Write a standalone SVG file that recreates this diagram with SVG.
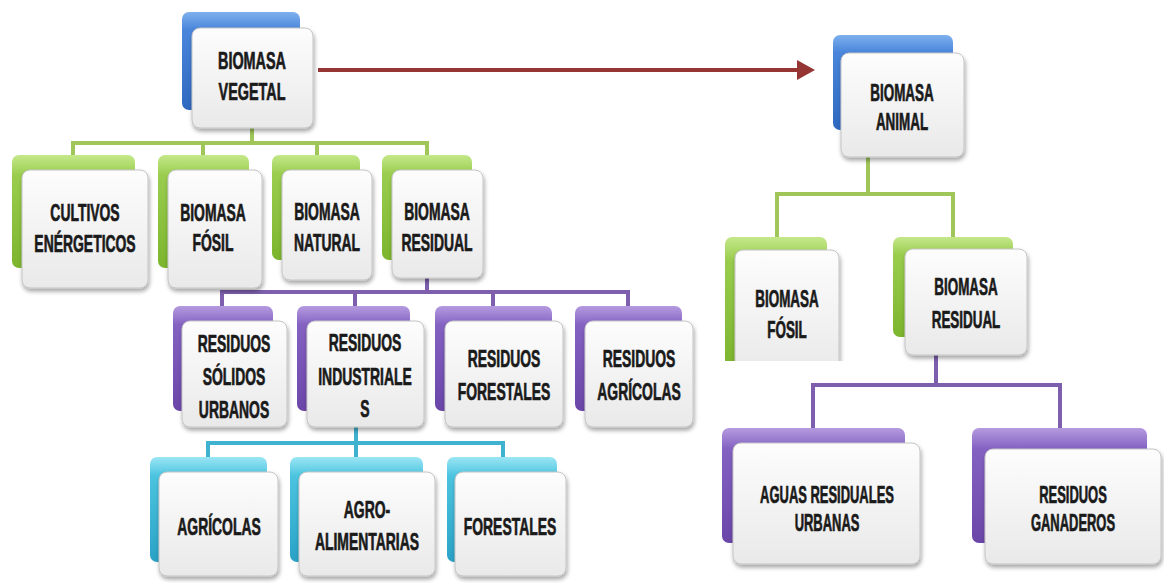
<svg xmlns="http://www.w3.org/2000/svg" width="1164" height="583" viewBox="0 0 1164 583">
  <defs>
    <linearGradient id="gBlue" x1="0" y1="0" x2="0" y2="1">
      <stop offset="0" stop-color="#7fb0ee"/>
      <stop offset="0.18" stop-color="#4a86db"/>
      <stop offset="1" stop-color="#2f68c0"/>
    </linearGradient>
    <linearGradient id="gGreen" x1="0" y1="0" x2="0" y2="1">
      <stop offset="0" stop-color="#c4e88a"/>
      <stop offset="0.18" stop-color="#9acd4e"/>
      <stop offset="1" stop-color="#7cb52e"/>
    </linearGradient>
    <linearGradient id="gPurple" x1="0" y1="0" x2="0" y2="1">
      <stop offset="0" stop-color="#b59be0"/>
      <stop offset="0.18" stop-color="#8462c2"/>
      <stop offset="1" stop-color="#6a46a8"/>
    </linearGradient>
    <linearGradient id="gCyan" x1="0" y1="0" x2="0" y2="1">
      <stop offset="0" stop-color="#9be6f4"/>
      <stop offset="0.18" stop-color="#4cc4e0"/>
      <stop offset="1" stop-color="#2aa2c6"/>
    </linearGradient>
    <linearGradient id="gCard" x1="0" y1="0" x2="0" y2="1">
      <stop offset="0" stop-color="#fdfdfd"/>
      <stop offset="1" stop-color="#e9e9ea"/>
    </linearGradient>
    <filter id="shadow" x="-10%" y="-10%" width="125%" height="130%">
      <feDropShadow dx="1" dy="3" stdDeviation="2" flood-color="#000" flood-opacity="0.35"/>
    </filter>
    <clipPath id="clipFosil">
      <rect x="700" y="200" width="160" height="161"/>
    </clipPath>
  </defs>
  <style>
    .bk { stroke-width: 0; }
    .blue { fill: url(#gBlue); }
    .green { fill: url(#gGreen); }
    .purple { fill: url(#gPurple); }
    .cyan { fill: url(#gCyan); }
    .card { fill: url(#gCard); stroke: #c4c4c6; stroke-width: 1; filter: url(#shadow); }
    .t { font-family: "Liberation Sans", Arial, sans-serif; font-weight: bold; font-size: 24px; fill: #1a1a1a; stroke: #1a1a1a; stroke-width: 0.7; text-anchor: middle; }
    .ln { fill: none; stroke-width: 4; stroke-linecap: square; }
    .lg { stroke: #a0c65a; }
    .lp { stroke: #7d5fad; }
    .lc { stroke: #3fb2cf; }
  </style>

  <rect width="1164" height="583" fill="#ffffff"/>

  <!-- connectors -->
  <g id="connectors">
    <path class="ln lg" d="M252 126V143M73 143H427M73 143V158M203 143V158M317 143V158M427 143V158"/>
    <path class="ln lp" d="M427 278V292M222 292H628M222 292V308M355 292V308M493 292V308M628 292V308"/>
    <path class="ln lc" d="M356 425V443M208 443H503M208 443V460M356 443V460M503 443V460"/>
    <path class="ln lg" d="M868 156V194M777 194H953M777 194V240M953 194V240"/>
    <path class="ln lp" d="M936 354V385M813 385H1060M813 385V431M1060 385V431"/>
    <path d="M318 70H800" fill="none" stroke="#963634" stroke-width="4"/>
    <polygon points="797,60 815,70 797,80" fill="#963634"/>
  </g>

  <!-- left tree -->
  <g id="biomasa-vegetal">
    <rect class="bk blue" x="182" y="12" width="118" height="98" rx="7"/>
    <rect class="card" x="192" y="28" width="121" height="100" rx="8"/>
    <text class="t" transform="translate(252 0) scale(0.6 1)"><tspan x="0" y="69">BIOMASA</tspan><tspan x="0" y="100">VEGETAL</tspan></text>
  </g>

  <g id="cultivos-energeticos">
    <rect class="bk green" x="12" y="155" width="123" height="113" rx="7"/>
    <rect class="card" x="22" y="170" width="126" height="118" rx="8"/>
    <text class="t" transform="translate(85 0) scale(0.58 1)"><tspan x="0" y="221">CULTIVOS</tspan><tspan x="0" y="252">ENÉRGETICOS</tspan></text>
  </g>
  <g id="biomasa-fosil">
    <rect class="bk green" x="158" y="155" width="91" height="113" rx="7"/>
    <rect class="card" x="168" y="170" width="94" height="118" rx="8"/>
    <text class="t" transform="translate(213 0) scale(0.58 1)"><tspan x="0" y="221">BIOMASA</tspan><tspan x="0" y="251">FÓSIL</tspan></text>
  </g>
  <g id="biomasa-natural">
    <rect class="bk green" x="272" y="155" width="88" height="105" rx="7"/>
    <rect class="card" x="282" y="170" width="90" height="110" rx="8"/>
    <text class="t" transform="translate(327 0) scale(0.58 1)"><tspan x="0" y="220">BIOMASA</tspan><tspan x="0" y="251">NATURAL</tspan></text>
  </g>
  <g id="biomasa-residual">
    <rect class="bk green" x="382" y="155" width="90" height="105" rx="7"/>
    <rect class="card" x="392" y="170" width="91" height="108" rx="8"/>
    <text class="t" transform="translate(437 0) scale(0.58 1)"><tspan x="0" y="220">BIOMASA</tspan><tspan x="0" y="251">RESIDUAL</tspan></text>
  </g>

  <g id="residuos-solidos-urbanos">
    <rect class="bk purple" x="173" y="306" width="100" height="105" rx="7"/>
    <rect class="card" x="182" y="321" width="105" height="106" rx="8"/>
    <text class="t" transform="translate(234 0) scale(0.58 1)"><tspan x="0" y="352">RESIDUOS</tspan><tspan x="0" y="385">SÓLIDOS</tspan><tspan x="0" y="418">URBANOS</tspan></text>
  </g>
  <g id="residuos-industriales">
    <rect class="bk purple" x="297" y="306" width="113" height="105" rx="7"/>
    <rect class="card" x="307" y="321" width="117" height="106" rx="8"/>
    <text class="t" transform="translate(365 0) scale(0.58 1)"><tspan x="0" y="351">RESIDUOS</tspan><tspan x="0" y="385">INDUSTRIALE</tspan><tspan x="0" y="417">S</tspan></text>
  </g>
  <g id="residuos-forestales">
    <rect class="bk purple" x="435" y="306" width="117" height="105" rx="7"/>
    <rect class="card" x="445" y="321" width="118" height="106" rx="8"/>
    <text class="t" transform="translate(504 0) scale(0.58 1)"><tspan x="0" y="367">RESIDUOS</tspan><tspan x="0" y="400">FORESTALES</tspan></text>
  </g>
  <g id="residuos-agricolas">
    <rect class="bk purple" x="575" y="306" width="107" height="105" rx="7"/>
    <rect class="card" x="585" y="321" width="108" height="106" rx="8"/>
    <text class="t" transform="translate(639 0) scale(0.58 1)"><tspan x="0" y="367">RESIDUOS</tspan><tspan x="0" y="400">AGRÍCOLAS</tspan></text>
  </g>

  <g id="agricolas">
    <rect class="bk cyan" x="150" y="457" width="117" height="105" rx="7"/>
    <rect class="card" x="159" y="472" width="119" height="104" rx="8"/>
    <text class="t" transform="translate(219 0) scale(0.58 1)"><tspan x="0" y="535">AGRÍCOLAS</tspan></text>
  </g>
  <g id="agro-alimentarias">
    <rect class="bk cyan" x="290" y="457" width="133" height="105" rx="7"/>
    <rect class="card" x="299" y="472" width="136" height="104" rx="8"/>
    <text class="t" transform="translate(367 0) scale(0.58 1)"><tspan x="0" y="518">AGRO-</tspan><tspan x="0" y="550">ALIMENTARIAS</tspan></text>
  </g>
  <g id="forestales">
    <rect class="bk cyan" x="447" y="457" width="110" height="105" rx="7"/>
    <rect class="card" x="455" y="472" width="111" height="104" rx="8"/>
    <text class="t" transform="translate(510 0) scale(0.58 1)"><tspan x="0" y="535">FORESTALES</tspan></text>
  </g>

  <!-- right tree -->
  <g id="biomasa-animal">
    <rect class="bk blue" x="833" y="35" width="120" height="95" rx="7"/>
    <rect class="card" x="841" y="53" width="123" height="104" rx="8"/>
    <text class="t" transform="translate(902 0) scale(0.56 1)"><tspan x="0" y="101">BIOMASA</tspan><tspan x="0" y="130">ANIMAL</tspan></text>
  </g>
  <g id="biomasa-fosil-animal" clip-path="url(#clipFosil)">
    <rect class="bk green" x="725" y="237" width="102" height="130" rx="7"/>
    <rect class="card" x="735" y="250" width="104" height="125" rx="8"/>
    <text class="t" transform="translate(787 0) scale(0.56 1)"><tspan x="0" y="307">BIOMASA</tspan><tspan x="0" y="338">FÓSIL</tspan></text>
  </g>
  <g id="biomasa-residual-animal">
    <rect class="bk green" x="893" y="237" width="120" height="100" rx="7"/>
    <rect class="card" x="905" y="249" width="122" height="106" rx="8"/>
    <text class="t" transform="translate(966 0) scale(0.56 1)"><tspan x="0" y="295">BIOMASA</tspan><tspan x="0" y="328">RESIDUAL</tspan></text>
  </g>
  <g id="aguas-residuales-urbanas">
    <rect class="bk purple" x="722" y="428" width="183" height="115" rx="7"/>
    <rect class="card" x="733" y="443" width="187" height="121" rx="8"/>
    <text class="t" transform="translate(827 0) scale(0.54 1)"><tspan x="0" y="503">AGUAS RESIDUALES</tspan><tspan x="0" y="531">URBANAS</tspan></text>
  </g>
  <g id="residuos-ganaderos">
    <rect class="bk purple" x="972" y="428" width="175" height="115" rx="7"/>
    <rect class="card" x="985" y="449" width="176" height="115" rx="8"/>
    <text class="t" transform="translate(1073 0) scale(0.54 1)"><tspan x="0" y="503">RESIDUOS</tspan><tspan x="0" y="531">GANADEROS</tspan></text>
  </g>
</svg>
